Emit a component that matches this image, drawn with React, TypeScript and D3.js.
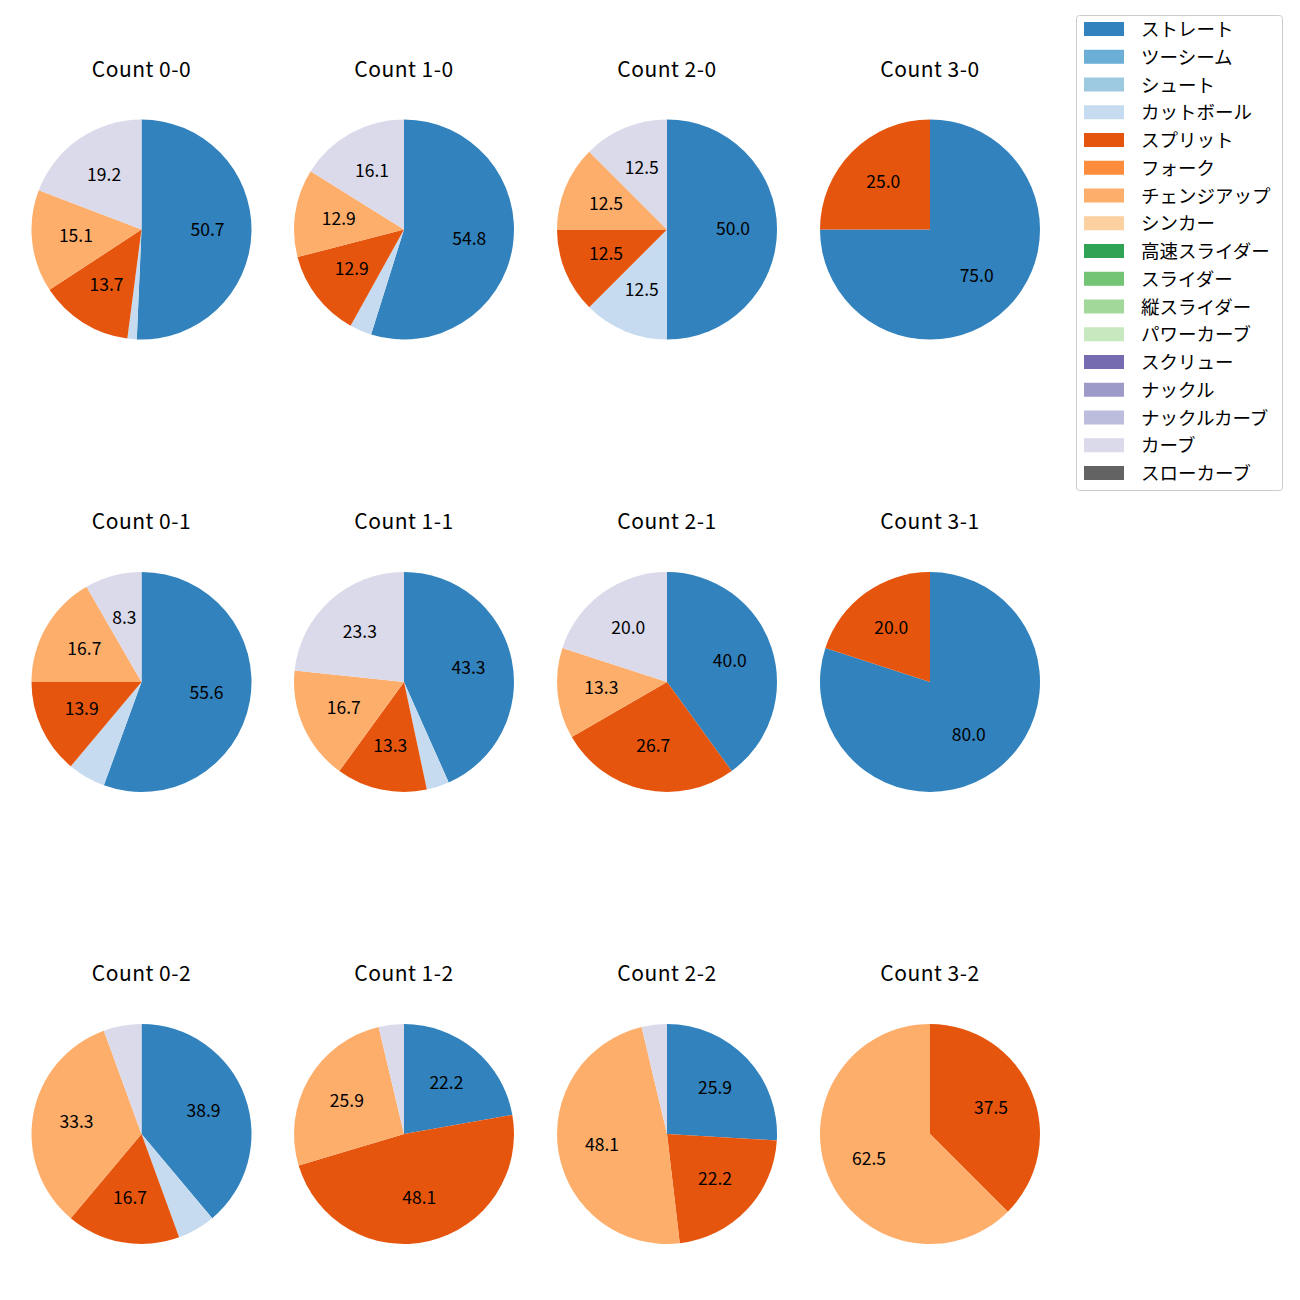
import React from "react";
import * as d3 from "d3";

const pitchTypes = ["ストレート","ツーシーム","シュート","カットボール","スプリット","フォーク","チェンジアップ","シンカー","高速スライダー","スライダー","縦スライダー","パワーカーブ","スクリュー","ナックル","ナックルカーブ","カーブ","スローカーブ"];
const pitchColors = ["#3182bd","#6baed6","#9ecae1","#c6dbef","#e6550d","#fd8d3c","#fdae6b","#fdd0a2","#31a354","#74c476","#a1d99b","#c7e9c0","#756bb1","#9e9ac8","#bcbddc","#dadaeb","#636363"];

const countTitles = ["Count 0-0","Count 1-0","Count 2-0","Count 3-0","Count 0-1","Count 1-1","Count 2-1","Count 3-1","Count 0-2","Count 1-2","Count 2-2","Count 3-2"];

// pitch counts per count situation
const straight = [37, 17, 4, 3, 20, 13, 6, 4, 7, 6, 7, 0];
const cutter   = [1, 1, 1, 0, 2, 1, 0, 0, 1, 0, 0, 0];
const split    = [10, 4, 1, 1, 5, 4, 4, 1, 3, 13, 6, 3];
const changeup = [11, 4, 1, 0, 6, 5, 2, 0, 6, 7, 13, 5];
const curve    = [14, 5, 1, 0, 3, 7, 3, 0, 1, 1, 1, 0];

const seriesByType: Record<string, number[]> = {
  "ストレート": straight,
  "カットボール": cutter,
  "スプリット": split,
  "チェンジアップ": changeup,
  "カーブ": curve,
};

const FONT = "'Noto Sans CJK JP', 'Noto Sans', sans-serif";

export default function App() {
  const colX = [141.5, 404, 667, 930];
  const rowY = [229.5, 682, 1134];
  const R = 110;
  const pieGen = d3.pie<{ t: string; v: number }>()
    .value((d) => d.v)
    .sort(null)
    .startAngle(0)
    .endAngle(2 * Math.PI);
  const arcGen = d3.arc<d3.PieArcDatum<{ t: string; v: number }>>().innerRadius(0).outerRadius(R);
  const colorScale = d3.scaleOrdinal<string, string>().domain(pitchTypes).range(pitchColors);

  return (
    <svg width={1300} height={1300} style={{ position: "absolute", left: 0, top: 0, background: "#fff" }}>
      <rect width={1300} height={1300} fill="#fff" />
      {countTitles.map((title, i) => {
        const cx = colX[i % 4];
        const cy = rowY[Math.floor(i / 4)];
        const data = pitchTypes
          .map((t) => ({ t, v: seriesByType[t] ? seriesByType[t][i] : 0 }))
          .filter((d) => d.v > 0);
        const total = d3.sum(data, (d) => d.v);
        const arcs = pieGen(data);
        return (
          <g key={title}>
            <text x={cx} y={cy - 162} textAnchor="middle" dominantBaseline="central" fontFamily={FONT} fontSize={21} letterSpacing={0.5} fill="#000">{title}</text>
            <g transform={`translate(${cx},${cy})`}>
              {arcs.map((a) => (
                <path key={a.data.t} d={arcGen(a) || ""} fill={colorScale(a.data.t)} />
              ))}
              {arcs.map((a) => {
                const pct = (a.data.v / total) * 100;
                if (pct < 7) return null;
                const mid = (a.startAngle + a.endAngle) / 2;
                const x = Math.sin(mid) * R * 0.6;
                const y = -Math.cos(mid) * R * 0.6 - 2;
                return (
                  <text key={a.data.t + "l"} x={x} y={y} textAnchor="middle" dominantBaseline="central" fontFamily={FONT} fontSize={17.5} fill="#000">{pct.toFixed(1)}</text>
                );
              })}
            </g>
          </g>
        );
      })}
      <g>
        <rect x={1076.5} y={15.5} width={206} height={475} rx={3} fill="#fff" stroke="#cccccc" strokeWidth={1} />
        {pitchTypes.map((t, j) => {
          const y = 29 + j * 27.75;
          return (
            <g key={t}>
              <rect x={1084} y={y - 7} width={40} height={14} fill={colorScale(t)} />
              <text x={1141} y={y - 1} dominantBaseline="central" fontFamily={FONT} fontSize={18.5} fill="#000">{t}</text>
            </g>
          );
        })}
      </g>
    </svg>
  );
}
